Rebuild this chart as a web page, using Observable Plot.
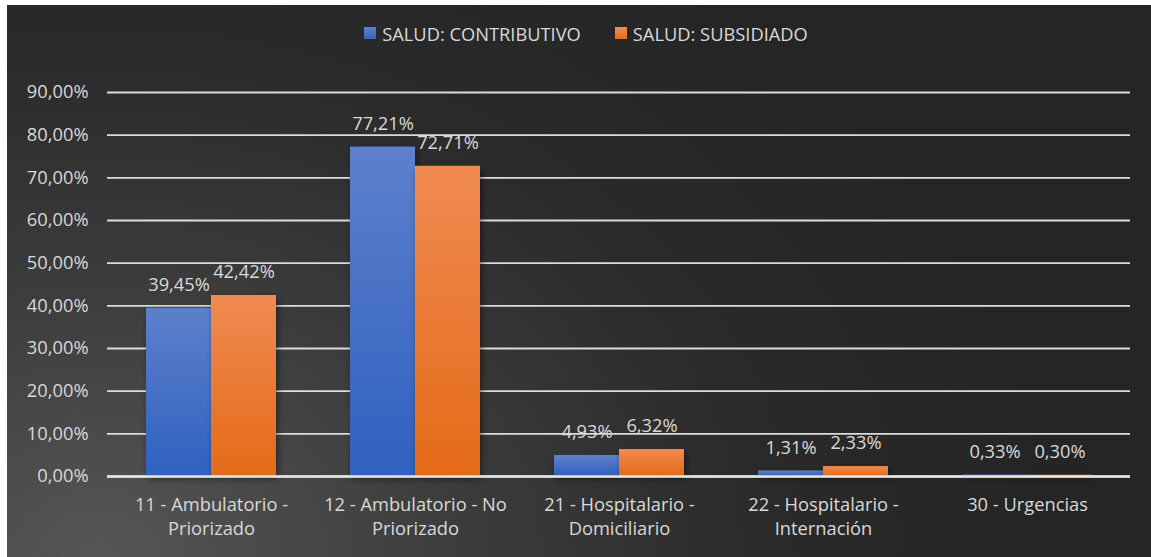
<!DOCTYPE html>
<html>
<head>
<meta charset="utf-8">
<script src="https://cdn.jsdelivr.net/npm/d3@7"></script>
<script src="https://cdn.jsdelivr.net/npm/@observablehq/plot@0.6"></script>
<style>
  html, body { margin: 0; padding: 0; background: #ffffff; }
  #card {
    position: absolute; left: 7px; top: 5px; width: 1144px; height: 552px;
    background: radial-gradient(ellipse 950px 720px at 8% 100%, #565656 0%, #3c3c3c 38%, #2a2a2a 70%, #252525 100%);
    font-family: "Open Sans", sans-serif; color: #d9d9d9; overflow: hidden;
  }
  #legend {
    height: 60px; display: flex; justify-content: center; align-items: center;
    font-size: 18.3px; padding-left: 14px; box-sizing: border-box; padding-bottom: 4px;
  }
  .item { display: flex; align-items: center; margin: 0 17px; }
  .sw { width: 12px; height: 12px; margin-right: 6px; }
  #chart svg rect.bar { filter: drop-shadow(2px 3px 3px rgba(0,0,0,0.45)); }
</style>
</head>
<body>
<div id="card">
  <div id="legend"></div>
  <div id="chart"></div>
</div>
<script>
const categories = [
  "11 - Ambulatorio -\nPriorizado",
  "12 - Ambulatorio - No\nPriorizado",
  "21 - Hospitalario -\nDomiciliario",
  "22 - Hospitalario -\nInternación",
  "30 - Urgencias"
];
const seriesNames = ["SALUD: CONTRIBUTIVO", "SALUD: SUBSIDIADO"];
const contributivo = [39.45, 77.21, 4.93, 1.31, 0.33];
const subsidiado = [42.42, 72.71, 6.32, 2.33, 0.30];
const yTicks = [0, 10, 20, 30, 40, 50, 60, 70, 80, 90];
const seriesColors = ["#4472c4", "#ed7d31"];

const locale = d3.formatLocale({decimal: ",", thousands: ".", grouping: [3], currency: ["", "€"]});
const fmt = v => locale.format(".2f")(v) + "%";

const rowsA = categories.map((c, i) => ({cat: c, value: contributivo[i]}));
const rowsB = categories.map((c, i) => ({cat: c, value: subsidiado[i]}));

// legend
const legend = document.getElementById("legend");
seriesNames.forEach((s, i) => {
  const it = document.createElement("div");
  it.className = "item";
  const sw = document.createElement("div");
  sw.className = "sw";
  sw.style.background = i === 0 ? "linear-gradient(#5b83d0,#3565c0)" : "linear-gradient(#f28c4e,#e86c1c)";
  const t = document.createElement("span");
  t.textContent = s;
  it.appendChild(sw); it.appendChild(t);
  legend.appendChild(it);
});

const width = 1144, height = 492;
const marginLeft = 100, marginRight = 21;
const padIn = 0.365;
const step = (width - marginLeft - marginRight) / categories.length;
const bw = step * (1 - padIn);
const fs = 18.3;
const txt = "#d9d9d9";

const plot = Plot.plot({
  width, height,
  marginTop: 27, marginBottom: 81, marginLeft, marginRight,
  style: {background: "transparent", color: txt, fontFamily: "'Open Sans', sans-serif", fontSize: fs + "px", overflow: "visible"},
  x: {type: "band", domain: categories, paddingInner: padIn, paddingOuter: padIn / 2, align: 0.5},
  y: {domain: [0, 90]},
  marks: [
    Plot.ruleY(yTicks, {stroke: "#dcdcdc", strokeWidth: 1.9}),
    Plot.axisY({ticks: yTicks, tickSize: 0, tickPadding: 19, tickFormat: fmt, fontSize: fs, fill: txt, label: null}),
    Plot.axisX({tickSize: 0, tickPadding: 18, fontSize: fs, fill: txt, lineHeight: 1.3, label: null}),
    Plot.barY(rowsA, {x: "cat", y: "value", fill: "url(#gBlue)", insetRight: bw / 2, className: "bar"}),
    Plot.barY(rowsB, {x: "cat", y: "value", fill: "url(#gOrange)", insetLeft: bw / 2, className: "bar"}),
    Plot.ruleY([0], {stroke: "#e6e6e6", strokeWidth: 2.4}),
    Plot.text(rowsA, {x: "cat", y: "value", text: d => fmt(d.value), dx: -bw / 4, dy: -23, fill: txt, fontSize: fs}),
    Plot.text(rowsB, {x: "cat", y: "value", text: d => fmt(d.value), dx: bw / 4, dy: -23, fill: txt, fontSize: fs})
  ]
});

const ns = "http://www.w3.org/2000/svg";
const defs = document.createElementNS(ns, "defs");
function grad(id, top, bottom) {
  const g = document.createElementNS(ns, "linearGradient");
  g.setAttribute("id", id);
  g.setAttribute("x1", "0"); g.setAttribute("y1", "0");
  g.setAttribute("x2", "0"); g.setAttribute("y2", "1");
  [[0, top], [1, bottom]].forEach(([o, c]) => {
    const s = document.createElementNS(ns, "stop");
    s.setAttribute("offset", o);
    s.setAttribute("stop-color", c);
    g.appendChild(s);
  });
  defs.appendChild(g);
}
grad("gBlue", "#5d80cc", "#2f61bf");
grad("gOrange", "#f18a52", "#e46a17");
plot.insertBefore(defs, plot.firstChild);
plot.querySelectorAll("g.bar rect, g[aria-label='bar'] rect").forEach(r => r.classList.add("bar"));
document.getElementById("chart").appendChild(plot);
</script>
</body>
</html>
